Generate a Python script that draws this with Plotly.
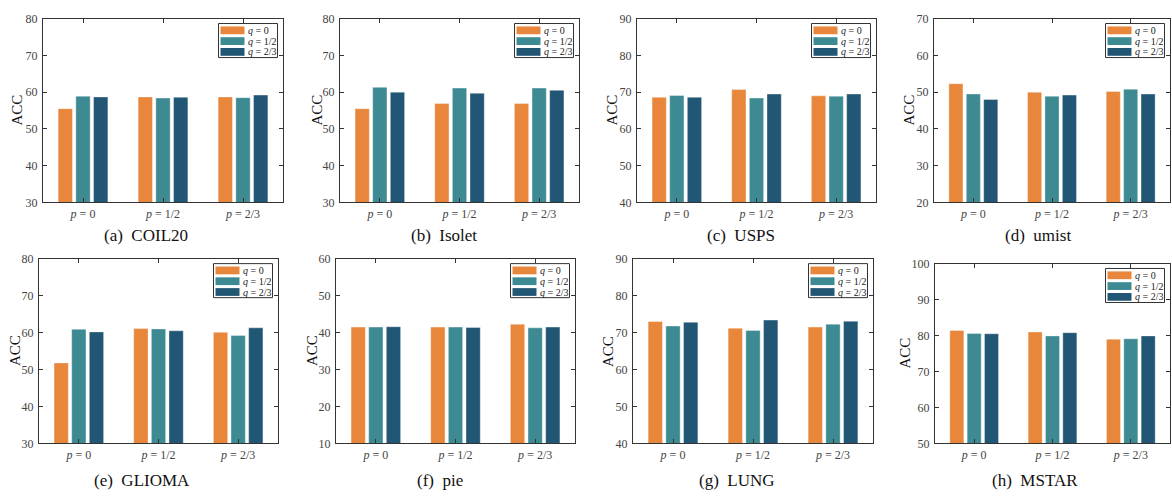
import plotly.graph_objects as go

# ---- data -------------------------------------------------------------
p_labels = ["<i>p</i> = 0", "<i>p</i> = 1/2", "<i>p</i> = 2/3"]
q_names = ["<i>q</i> = 0", "<i>q</i> = 1/2", "<i>q</i> = 2/3"]
colors = ["#E8873C", "#3D8A93", "#215675"]

datasets = ["(a)  COIL20", "(b)  Isolet", "(c)  USPS", "(d)  umist",
            "(e)  GLIOMA", "(f)  pie", "(g)  LUNG", "(h)  MSTAR"]

# ACC for q = 0, 1/2, 2/3 (rows) over p = 0, 1/2, 2/3 (columns)
coil20 = [[55.5, 58.7, 58.7], [58.9, 58.4, 58.5], [58.7, 58.6, 59.2]]
isolet = [[55.5, 56.9, 56.9], [61.3, 61.1, 61.1], [60.0, 59.7, 60.5]]
usps = [[68.6, 70.7, 69.0], [69.1, 68.4, 68.9], [68.6, 69.5, 69.5]]
umist = [[52.3, 50.0, 50.2], [49.5, 48.9, 50.8], [48.0, 49.2, 49.5]]
glioma = [[51.8, 61.1, 60.1], [60.9, 61.0, 59.2], [60.2, 60.5, 61.3]]
pie = [[41.5, 41.5, 42.3], [41.5, 41.5, 41.3], [41.6, 41.4, 41.5]]
lung = [[73.0, 71.2, 71.5], [71.8, 70.6, 72.3], [72.8, 73.4, 73.1]]
mstar = [[81.4, 81.0, 79.0], [80.6, 79.9, 79.1], [80.5, 80.8, 79.9]]

y_ranges = [(30, 80), (30, 80), (40, 90), (20, 70),
            (30, 80), (10, 60), (40, 90), (50, 100)]

all_values = [coil20, isolet, usps, umist, glioma, pie, lung, mstar]

# ---- layout geometry (pixels) ------------------------------------------
W, H = 1172, 501
# plot areas: left, right, top, bottom
boxes = [(43, 283, 12, 201), (340, 579, 12, 201), (637, 876, 12, 201), (934, 1170, 12, 201),
         (39, 278, 259, 449), (336, 575, 259, 449), (633, 873, 259, 449), (935, 1170, 264, 449)]
ylabel_x = [17, 317, 612, 909, 15, 312, 608, 905]
caption_x = [146, 444, 741, 1038, 142, 440, 737, 1035]
caption_y = [235, 235, 235, 235, 487, 487, 487, 487]

def px(x):
    return x / W

def py(y):
    return 1 - y / H

FONT = "Liberation Serif"
AXC = "#333333"
TXT = "#444444"

fig = go.Figure()
shapes = []
annotations = []

for k, vals in enumerate(all_values):
    xa = "x" if k == 0 else f"x{k + 1}"
    ya = "y" if k == 0 else f"y{k + 1}"
    for i in range(3):
        fig.add_trace(go.Bar(
            x=[0, 1, 2], y=vals[i], name=q_names[i],
            marker=dict(color=colors[i], line=dict(color="rgba(255,255,255,0.45)", width=0.8)),
            xaxis=xa, yaxis=ya, showlegend=False,
        ))
    l, r, t, b = boxes[k]
    lo, hi = y_ranges[k]
    xkey = "xaxis" if k == 0 else f"xaxis{k + 1}"
    ykey = "yaxis" if k == 0 else f"yaxis{k + 1}"
    fig.layout[xkey] = dict(
        domain=[px(l), px(r)], anchor=ya, range=[-0.5, 2.5],
        tickvals=[0, 1, 2], ticktext=p_labels,
        ticks="inside", ticklen=4, tickcolor=AXC, mirror="ticks",
        showline=True, linecolor=AXC, linewidth=1.3, showgrid=False, zeroline=False,
        tickfont=dict(family=FONT, size=12, color=TXT), fixedrange=True,
    )
    fig.layout[ykey] = dict(
        domain=[py(b), py(t)], anchor=xa, range=[lo, hi], dtick=10,
        ticks="inside", ticklen=4, tickcolor=AXC, mirror="ticks",
        showline=True, linecolor=AXC, linewidth=1.3, showgrid=False, zeroline=False,
        tickfont=dict(family=FONT, size=12, color=TXT), ticklabelstandoff=2, fixedrange=True,
    )

    # y-axis title
    annotations.append(dict(
        x=px(ylabel_x[k]), y=py((t + b) / 2), xref="paper", yref="paper",
        xanchor="center", yanchor="middle",
        text="ACC", textangle=-90, showarrow=False,
        font=dict(family=FONT, size=15, color="#111111"),
    ))
    # panel caption
    annotations.append(dict(
        x=px(caption_x[k]), y=py(caption_y[k]), xref="paper", yref="paper",
        xanchor="center", yanchor="middle",
        text=datasets[k], showarrow=False,
        font=dict(family=FONT, size=17, color="#111111"),
    ))

    # legend box in the upper right corner
    bw, bh = 59, 35
    br = r - 5.5
    bl = br - bw
    bt = t + 5
    shapes.append(dict(
        type="rect", xref="paper", yref="paper",
        x0=px(bl), x1=px(br), y0=py(bt + bh), y1=py(bt),
        line=dict(color=AXC, width=1), fillcolor="white", layer="above",
    ))
    for i in range(3):
        cy = bt + 7 + i * 11.1
        shapes.append(dict(
            type="rect", xref="paper", yref="paper",
            x0=px(bl + 2), x1=px(bl + 26), y0=py(cy + 4), y1=py(cy - 4),
            line=dict(width=0), fillcolor=colors[i], layer="above",
        ))
        annotations.append(dict(
            x=px(bl + 27), y=py(cy), xref="paper", yref="paper",
            xanchor="left", yanchor="middle", text=q_names[i], showarrow=False,
            font=dict(family=FONT, size=10, color="#222222"),
        ))

fig.update_layout(
    width=W, height=H, margin=dict(l=0, r=0, t=0, b=0),
    paper_bgcolor="white", plot_bgcolor="white",
    barmode="group", bargap=0.336, bargroupgap=0.19,
    shapes=shapes, annotations=annotations, showlegend=False,
)

fig.write_html("out.html")
